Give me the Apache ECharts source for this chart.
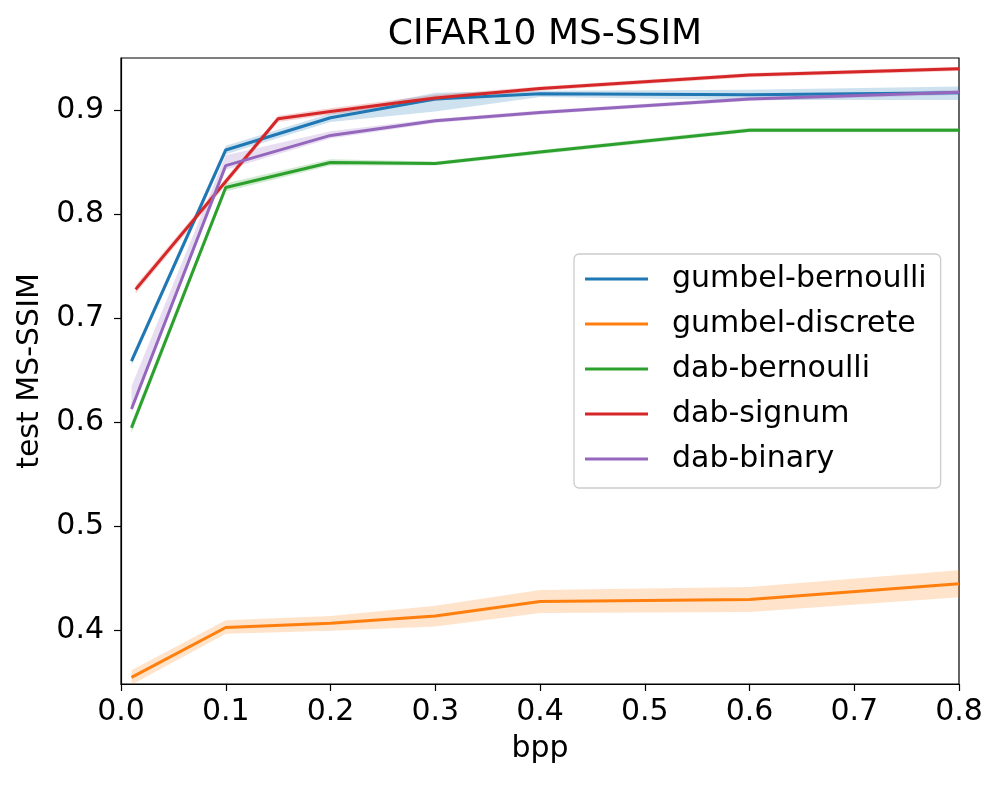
<!DOCTYPE html>
<html>
<head>
<meta charset="utf-8">
<script src="https://cdn.jsdelivr.net/npm/echarts@6/dist/echarts.min.js"></script>
<style>
  html, body { margin: 0; padding: 0; background: #fff; }
  #chart { width: 1000px; height: 785px; }
</style>
</head>
<body>
<div id="chart"></div>
<script>
// bpp values (x)
const bpp = [0.01, 0.1, 0.2, 0.3, 0.4, 0.6, 0.8]
const bppSignum = [0.014, 0.15, 0.2, 0.3, 0.4, 0.6, 0.8]

// mean MS-SSIM per method + shaded band (lo / hi)
const gumbelBernoulli = [0.659, 0.862, 0.893, 0.911, 0.916, 0.915, 0.917]
const gumbelBernoulliLo = [0.655, 0.858, 0.889, 0.899, 0.913, 0.910, 0.910]
const gumbelBernoulliHi = [0.663, 0.866, 0.897, 0.917, 0.919, 0.920, 0.923]

const gumbelDiscrete = [0.355, 0.403, 0.407, 0.414, 0.428, 0.430, 0.445]
const gumbelDiscreteLo = [0.348, 0.397, 0.400, 0.404, 0.417, 0.418, 0.432]
const gumbelDiscreteHi = [0.362, 0.410, 0.414, 0.424, 0.439, 0.442, 0.458]

const dabBernoulli = [0.595, 0.826, 0.850, 0.849, 0.860, 0.881, 0.881]
const dabBernoulliLo = [0.590, 0.822, 0.847, 0.847, 0.858, 0.879, 0.879]
const dabBernoulliHi = [0.600, 0.830, 0.853, 0.851, 0.862, 0.883, 0.883]

const dabSignum = [0.728, 0.892, 0.899, 0.912, 0.921, 0.934, 0.940]
const dabSignumLo = [0.724, 0.889, 0.896, 0.909, 0.919, 0.932, 0.938]
const dabSignumHi = [0.732, 0.895, 0.902, 0.915, 0.923, 0.936, 0.942]

const dabBinary = [0.613, 0.847, 0.876, 0.890, 0.898, 0.911, 0.9175]
const dabBinaryLo = [0.610, 0.843, 0.873, 0.888, 0.896, 0.909, 0.915]
const dabBinaryHi = [0.635, 0.857, 0.880, 0.892, 0.900, 0.913, 0.920]

const xTicks = [0, 0.1, 0.2, 0.3, 0.4, 0.5, 0.6, 0.7, 0.8]
const yTicks = [0.4, 0.5, 0.6, 0.7, 0.8, 0.9]

const FONT = 'DejaVu Sans'

function lineSeries(name, xs, ys, color) {
  return {
    name: name,
    type: 'line',
    data: xs.map((x, i) => [x, ys[i]]),
    showSymbol: false,
    symbol: 'none',
    clip: true,
    z: 3,
    color: color,
    lineStyle: { color: color, width: 3 }
  }
}

function bandSeries(xs, lo, hi, color) {
  return {
    type: 'custom',
    clip: true,
    silent: true,
    z: 1,
    data: xs.map((x, i) => [x, lo[i], hi[i]]),
    encode: { x: 0, y: [1, 2] },
    renderItem: (params, api) => {
      if (params.dataIndex !== 0) return
      const top = xs.map((x, i) => api.coord([x, hi[i]]))
      const bot = xs.map((x, i) => api.coord([x, lo[i]])).reverse()
      return {
        type: 'polygon',
        shape: { points: top.concat(bot) },
        style: { fill: color, opacity: 0.22 }
      }
    }
  }
}

const chart = echarts.init(document.getElementById('chart'))

chart.setOption({
  animation: false,
  backgroundColor: '#fff',
  textStyle: { fontFamily: FONT },
  title: {
    text: 'CIFAR10 MS-SSIM',
    left: 540,
    textAlign: 'center',
    top: 12,
    textStyle: { fontFamily: FONT, fontSize: 36, fontWeight: 'normal', color: '#000' }
  },
  grid: {
    left: 121,
    right: 41,
    top: 58,
    bottom: 101,
    show: true,
    borderColor: '#000',
    borderWidth: 1.2,
    backgroundColor: 'transparent'
  },
  legend: {
    orient: 'vertical',
    left: 574,
    top: 254,
    padding: [8, 14, 12, 11],
    itemGap: 11,
    itemWidth: 63,
    itemHeight: 3,
    icon: 'rect',
    borderColor: '#cccccc',
    borderWidth: 1.3,
    borderRadius: 5,
    backgroundColor: 'rgba(255,255,255,0.8)',
    textStyle: {
      fontFamily: FONT,
      fontSize: 30,
      lineHeight: 34,
      color: '#000',
      padding: [0, 0, 0, 19]
    },
    data: ['gumbel-bernoulli', 'gumbel-discrete', 'dab-bernoulli', 'dab-signum', 'dab-binary']
  },
  xAxis: {
    type: 'value',
    min: 0,
    max: 0.8,
    interval: 0.1,
    name: 'bpp',
    nameLocation: 'middle',
    nameGap: 50,
    nameTextStyle: { fontFamily: FONT, fontSize: 30, color: '#000' },
    axisLine: { show: true, lineStyle: { color: '#000', width: 1.2 } },
    axisTick: { show: true, length: 7, lineStyle: { color: '#000', width: 1.2 }, customValues: xTicks },
    axisLabel: {
      margin: 13,
      fontFamily: FONT,
      fontSize: 30,
      color: '#000',
      customValues: xTicks,
      formatter: v => v.toFixed(1)
    },
    splitLine: { show: false }
  },
  yAxis: {
    type: 'value',
    min: 0.3487,
    max: 0.9504,
    name: 'test MS-SSIM',
    nameLocation: 'middle',
    nameGap: 72,
    nameTextStyle: { fontFamily: FONT, fontSize: 30, color: '#000' },
    axisLine: { show: true, lineStyle: { color: '#000', width: 1.2 } },
    axisTick: { show: true, length: 7, lineStyle: { color: '#000', width: 1.2 }, customValues: yTicks },
    axisLabel: {
      margin: 17,
      fontFamily: FONT,
      fontSize: 30,
      color: '#000',
      customValues: yTicks,
      formatter: v => v.toFixed(1)
    },
    splitLine: { show: false }
  },
  series: [
    bandSeries(bpp, gumbelBernoulliLo, gumbelBernoulliHi, '#1f77b4'),
    bandSeries(bpp, gumbelDiscreteLo, gumbelDiscreteHi, '#ff7f0e'),
    bandSeries(bpp, dabBernoulliLo, dabBernoulliHi, '#2ca02c'),
    bandSeries(bppSignum, dabSignumLo, dabSignumHi, '#d62728'),
    bandSeries(bpp, dabBinaryLo, dabBinaryHi, '#9467bd'),
    lineSeries('gumbel-bernoulli', bpp, gumbelBernoulli, '#1f77b4'),
    lineSeries('gumbel-discrete', bpp, gumbelDiscrete, '#ff7f0e'),
    lineSeries('dab-bernoulli', bpp, dabBernoulli, '#2ca02c'),
    lineSeries('dab-signum', bppSignum, dabSignum, '#d62728'),
    lineSeries('dab-binary', bpp, dabBinary, '#9467bd')
  ]
})
</script>
</body>
</html>
